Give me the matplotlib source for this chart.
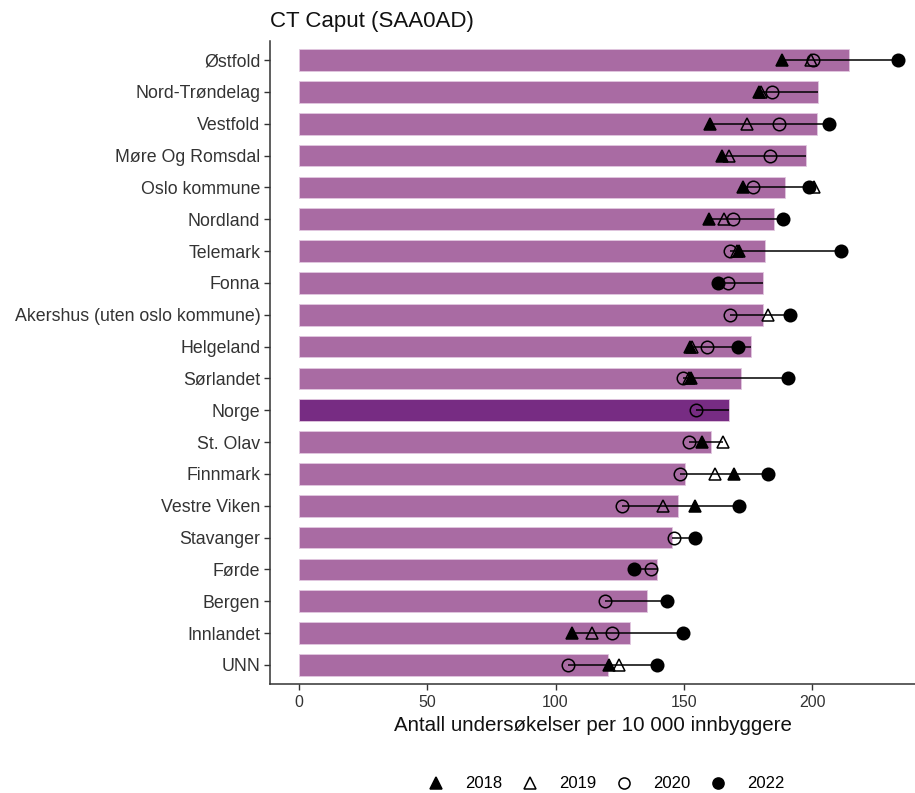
import numpy as np
import matplotlib
matplotlib.use("Agg")
import matplotlib.pyplot as plt
from matplotlib.lines import Line2D

plt.rcParams["font.family"] = ["Liberation Sans", "DejaVu Sans"]

nan = np.nan

regions = [
    "Østfold", "Nord-Trøndelag", "Vestfold", "Møre Og Romsdal", "Oslo kommune",
    "Nordland", "Telemark", "Fonna", "Akershus (uten oslo kommune)", "Helgeland",
    "Sørlandet", "Norge", "St. Olav", "Finnmark", "Vestre Viken",
    "Stavanger", "Førde", "Bergen", "Innlandet", "UNN",
]

# bar value (2021)
rate_2021 = [214.3, 202.4, 201.9, 197.4, 189.5,
             185.0, 181.5, 180.7, 180.7, 176.2,
             172.2, 167.7, 160.4, 150.3, 147.6,
             145.3, 139.7, 135.7, 129.1, 120.3]

rate_2018 = [188.3, 179.4, 160.1, 165.0, 173.0,
             159.6, 171.4, nan, nan, 152.4,
             152.9, nan, 156.9, 169.5, 154.5,
             nan, nan, nan, 106.3, 120.7]

rate_2019 = [199.5, 180.2, 174.6, 167.4, 200.8,
             165.8, 170.5, nan, 182.6, 153.0,
             152.0, nan, 165.3, 162.2, 142.0,
             nan, nan, nan, 114.3, 124.8]

rate_2020 = [200.3, 184.2, 187.0, 183.4, 177.0,
             169.0, 167.8, 167.0, 167.8, 158.8,
             149.7, 154.8, 152.1, 148.4, 126.0,
             146.1, 137.3, 119.1, 122.0, 104.7]

rate_2022 = [233.3, nan, 206.7, nan, 198.7,
             188.7, 211.1, 163.3, 191.2, 171.1,
             190.7, nan, nan, 182.6, 171.4,
             154.2, 130.4, 143.6, 149.7, 139.5]

years = ["2018", "2019", "2020", "2022"]

W, H = 915, 793
fig = plt.figure(figsize=(W / 100, H / 100), dpi=100)
ax = fig.add_axes([270 / W, 1 - 684 / H, (915 - 270) / W, (684 - 41) / H])

n = len(regions)
ypos = np.arange(n)[::-1]

bar_colors = ["#772C83" if r == "Norge" else "#A96BA3" for r in regions]
ax.barh(ypos, rate_2021, height=0.68, color=bar_colors,
        edgecolor="#E2C8E0", linewidth=0.6, zorder=1)

# range line across all years for each region
all_vals = np.array([rate_2018, rate_2019, rate_2020, rate_2021, rate_2022], dtype=float)
lo = np.nanmin(all_vals, axis=0)
hi = np.nanmax(all_vals, axis=0)
ax.hlines(ypos, lo, hi, color="black", linewidth=1.1, zorder=2)

ms = 9
styles = {
    "2018": dict(marker="^", mfc="black", mec="black"),
    "2019": dict(marker="^", mfc="none", mec="black"),
    "2020": dict(marker="o", mfc="none", mec="black"),
    "2022": dict(marker="o", mfc="black", mec="black"),
}
series = {"2018": rate_2018, "2019": rate_2019, "2020": rate_2020, "2022": rate_2022}
for yr in years:
    st = styles[yr]
    ax.plot(series[yr], ypos, linestyle="none", markersize=ms,
            markeredgewidth=1.1, zorder=3, **st)

ax.set_xlim(-11.2, 240)
ax.set_ylim(-0.6, n - 0.4)
ax.set_yticks(ypos)
ax.set_yticklabels(regions, fontsize=12.8, color="#333333")
ax.set_xticks([0, 50, 100, 150, 200])
ax.tick_params(axis="x", labelsize=11.5, labelcolor="#333333", length=4,
               color="#333333", width=1, pad=4)
ax.tick_params(axis="y", length=4, color="#333333", width=1, pad=3)
for s in ["top", "right"]:
    ax.spines[s].set_visible(False)
for s in ["left", "bottom"]:
    ax.spines[s].set_color("#333333")
    ax.spines[s].set_linewidth(1.1)

ax.set_xlabel("Antall undersøkelser per 10 000 innbyggere", fontsize=14.8,
              color="#111111", labelpad=4)
fig.text(270 / W, 1 - 21 / H, "CT Caput (SAA0AD)", fontsize=16,
         color="#111111", ha="left", va="center")

handles = [Line2D([], [], linestyle="none", markersize=8, markeredgewidth=1.1,
                  **styles[yr]) for yr in years]
fig.legend(handles, years, loc="center", ncol=4, frameon=False,
           bbox_to_anchor=(606 / W, 1 - 784 / H), fontsize=12,
           handlelength=1.0, handletextpad=1.24, columnspacing=1.17)

fig.savefig("out.png", dpi=100)
